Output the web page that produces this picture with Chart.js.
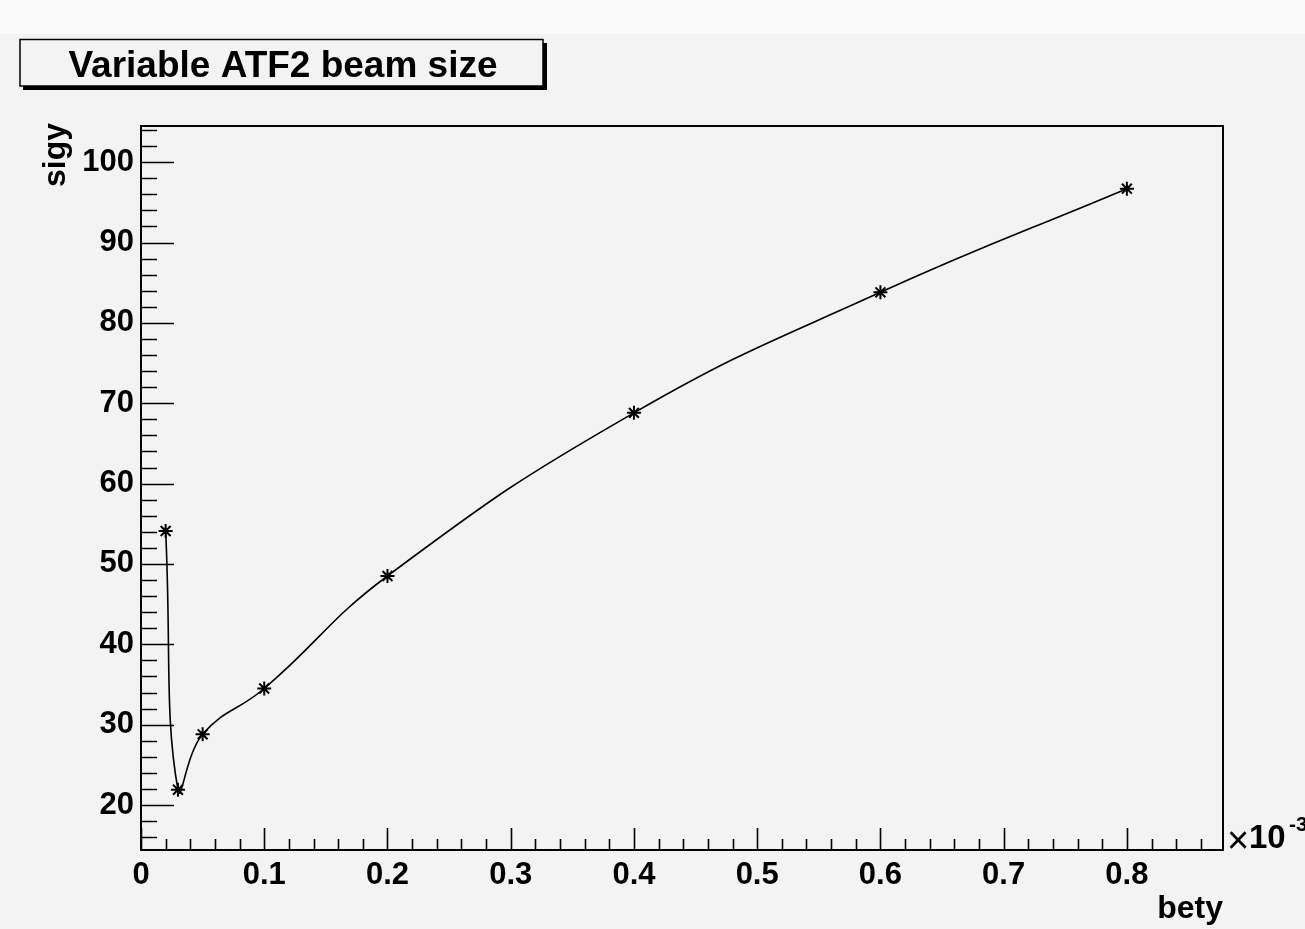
<!DOCTYPE html>
<html><head><meta charset="utf-8">
<script src="https://cdn.jsdelivr.net/npm/chart.js@4/dist/chart.umd.min.js"></script>
<style>html,body{margin:0;padding:0;background:#f3f3f3;overflow:hidden}</style>
</head><body>
<canvas id="c" width="1305" height="929"></canvas>
<script>
// ---- data ----
const bety = [0.02, 0.03, 0.05, 0.1, 0.2, 0.4, 0.6, 0.8];
const sigy = [54.1, 21.9, 28.8, 34.5, 48.5, 68.8, 83.8, 96.7];
const xTickValues = [0, 0.1, 0.2, 0.3, 0.4, 0.5, 0.6, 0.7, 0.8];
const yTickValues = [20, 30, 40, 50, 60, 70, 80, 90, 100];
const chartTitle = 'Variable ATF2 beam size';
const xTitle = 'bety';
const yTitle = 'sigy';

const FONT = "'Liberation Sans', Arial, Helvetica, sans-serif";
const X_MIN = 0, X_MAX = 0.878, Y_MIN = 14.4, Y_MAX = 104.5;

const decor = {
  id: 'decor',
  beforeDraw(chart) {
    const ctx = chart.ctx;
    ctx.save();
    ctx.fillStyle = '#f3f3f3';
    ctx.fillRect(0, 0, chart.width, chart.height);
    ctx.fillStyle = '#fafafa';
    ctx.fillRect(0, 0, chart.width, 34);
    ctx.restore();
  },
  afterDraw(chart) {
    const ctx = chart.ctx;
    const a = chart.chartArea;
    const xs = chart.scales.x, ys = chart.scales.y;
    ctx.save();
    ctx.strokeStyle = '#000';
    ctx.lineWidth = 1.6;
    ctx.beginPath();
    for (let i = 0; i * 0.02 <= X_MAX + 1e-9; i++) {
      const v = +(i * 0.02).toFixed(3);
      const px = Math.round(xs.getPixelForValue(v)) + 0.5;
      const len = (i % 5 === 0) ? 22 : 11;
      ctx.moveTo(px, a.bottom);
      ctx.lineTo(px, a.bottom - len);
    }
    for (let v = 16; v <= Y_MAX; v += 2) {
      const py = Math.round(ys.getPixelForValue(v)) + 0.5;
      const len = (v % 10 === 0) ? 33 : 16;
      ctx.moveTo(a.left, py);
      ctx.lineTo(a.left + len, py);
    }
    ctx.stroke();
    ctx.lineWidth = 2;
    ctx.strokeRect(a.left, a.top, a.right - a.left, a.bottom - a.top);

    // title box
    ctx.fillStyle = '#f3f3f3';
    ctx.fillRect(20, 39, 523, 47);
    ctx.lineWidth = 1.5;
    ctx.strokeRect(20, 39.5, 523, 46.5);
    ctx.fillStyle = '#000';
    ctx.fillRect(543, 43, 4, 47);
    ctx.fillRect(23, 86, 524, 4);
    ctx.font = 'bold 37px ' + FONT;
    ctx.textAlign = 'center';
    ctx.textBaseline = 'alphabetic';
    ctx.fillText(chartTitle, 283, 77);

    // axis titles
    ctx.font = 'bold 32px ' + FONT;
    ctx.textAlign = 'right';
    ctx.fillText(xTitle, a.right, 918);
    ctx.save();
    ctx.translate(65, a.top - 3);
    ctx.rotate(-Math.PI / 2);
    ctx.textAlign = 'right';
    ctx.fillText(yTitle, 0, 0);
    ctx.restore();

    // exponent
    ctx.textAlign = 'left';
    ctx.font = '38px ' + FONT;
    ctx.fillText('\u00d7', 1227, 853);
    ctx.font = 'bold 33px ' + FONT;
    ctx.fillText('10', 1249, 848);
    ctx.font = 'bold 21px ' + FONT;
    ctx.fillText('-3', 1289, 831);
    ctx.restore();
  }
};

new Chart(document.getElementById('c'), {
  type: 'scatter',
  data: {
    datasets: [{
      data: bety.map((x, i) => ({ x: x, y: sigy[i] })),
      showLine: true,
      tension: 0.45,
      borderColor: '#000',
      borderWidth: 1.6,
      pointStyle: 'star',
      pointRadius: 7,
      pointBorderWidth: 2,
      pointBorderColor: '#000',
      pointBackgroundColor: '#000',
      fill: false
    }]
  },
  options: {
    responsive: false,
    animation: false,
    devicePixelRatio: 1,
    layout: { padding: { top: 126, right: 82, left: 0, bottom: 0 } },
    plugins: { legend: { display: false }, tooltip: { enabled: false }, title: { display: false } },
    scales: {
      x: {
        type: 'linear', min: X_MIN, max: X_MAX,
        afterFit(s) { s.height = 79; },
        afterBuildTicks(s) { s.ticks = xTickValues.map(v => ({ value: v })); },
        grid: { display: false, drawTicks: false },
        border: { display: false },
        ticks: {
          padding: 7, color: '#000',
          font: { family: FONT, size: 31, weight: 'bold' },
          callback: v => v === 0 ? '0' : v.toFixed(1)
        }
      },
      y: {
        type: 'linear', min: Y_MIN, max: Y_MAX,
        afterFit(s) { s.width = 141; },
        afterBuildTicks(s) { s.ticks = yTickValues.map(v => ({ value: v })); },
        grid: { display: false, drawTicks: false },
        border: { display: false },
        ticks: {
          padding: 7, color: '#000',
          font: { family: FONT, size: 31, weight: 'bold' },
          callback: v => String(v)
        }
      }
    }
  },
  plugins: [decor]
});
</script>
</body></html>
